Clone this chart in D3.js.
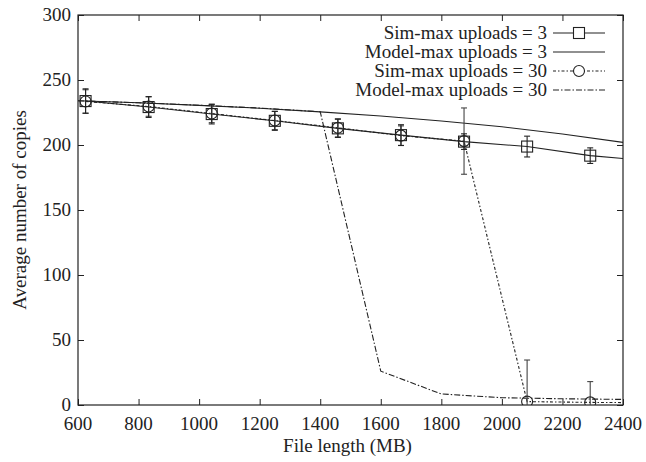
<!DOCTYPE html>
<html>
<head>
<meta charset="utf-8">
<title>Average number of copies</title>
<script src="https://cdn.jsdelivr.net/npm/d3@7"></script>
<style>
    body { margin: 0; background: #fff; }
    text { font-family: "Liberation Serif", serif !important; font-size: 19px; }
</style>
</head>
<body>
<script>
// file sizes (MB)
var simX = [625, 833.3, 1041.7, 1250, 1458.3, 1666.7, 1875, 2083.3, 2291.7, 2500];
var modelX = [600, 800, 1000, 1200, 1400, 1600, 1800, 2000, 2200, 2400];

// Sim-max uploads = 3
var sim3 = [233.8, 229.2, 223.8, 218.6, 212.8, 207.6, 202.6, 198.8, 191.8, 187.7];
var sim3Err = [9.4, 8, 7.6, 7.3, 7, 8, 6, 8, 6, 0];
// Model-max uploads = 3
var model3 = [234, 232.5, 230.5, 228.3, 225.5, 222.3, 218.5, 214, 208.5, 202];
// Sim-max uploads = 30
var sim30 = [233.5, 229.6, 224.2, 218.8, 213.2, 207.2, 203, 2.6, 2, 1.7];
var sim30Err = [9, 7.5, 7, 7, 7, 7.5, 25.5, 32, 16, 0];
// Model-max uploads = 30
var model30 = [234, 232.5, 230.6, 228.4, 225.6, 26, 8.5, 5.6, 4.8, 4.3];

var xTicks = [600, 800, 1000, 1200, 1400, 1600, 1800, 2000, 2200, 2400];
var yTicks = [0, 50, 100, 150, 200, 250, 300];

var W = 646, H = 462;
var margin = { top: 15, right: 23, bottom: 57, left: 78 };
var width = W - margin.left - margin.right,
    height = H - margin.top - margin.bottom;

var x = d3.scaleLinear().domain([600, 2400]).range([0, width]);
var y = d3.scaleLinear().domain([0, 300]).range([height, 0]);

var svg = d3.select("body").append("svg")
    .attr("width", W).attr("height", H)
    .attr("font-family", "Liberation Serif");
var g = svg.append("g")
    .attr("transform", "translate(" + margin.left + "," + margin.top + ")");

g.append("clipPath").attr("id", "clip")
    .append("rect").attr("width", width).attr("height", height);

var ink = "#222";

function label(parent, str) {
    return parent.append("text")
        .attr("font-family", "Liberation Serif").attr("font-size", 19)
        .attr("fill", ink).text(str);
}

// tick marks: inward, on all four sides
var tl = 6;
function ticksOnly(a) {
    a.attr("font-family", null);
    a.select(".domain").remove();
    a.selectAll("text").remove();
    a.selectAll(".tick line").attr("stroke", ink);
}
g.append("g").attr("transform", "translate(0," + height + ")")
    .call(d3.axisBottom(x).tickValues(xTicks).tickSize(-tl)).call(ticksOnly);
g.append("g")
    .call(d3.axisTop(x).tickValues(xTicks).tickSize(-tl)).call(ticksOnly);
g.append("g")
    .call(d3.axisLeft(y).tickValues(yTicks).tickSize(-tl)).call(ticksOnly);
g.append("g").attr("transform", "translate(" + width + ",0)")
    .call(d3.axisRight(y).tickValues(yTicks).tickSize(-tl)).call(ticksOnly);

// tick labels
xTicks.forEach(function (t) {
    label(g, t).attr("x", x(t)).attr("y", height + 25).attr("text-anchor", "middle");
});
yTicks.forEach(function (t) {
    label(g, t).attr("x", -7).attr("y", y(t) + 6).attr("text-anchor", "end");
});

g.append("rect").attr("width", width).attr("height", height)
    .attr("fill", "none").attr("stroke", ink).attr("stroke-width", 1.2);

label(svg, "File length (MB)")
    .attr("x", margin.left + width / 2 - 3).attr("y", H - 10)
    .attr("text-anchor", "middle");
label(svg, "Average number of copies")
    .attr("transform", "translate(26," + (margin.top + height / 2) + ") rotate(-90)")
    .attr("text-anchor", "middle");

var plot = g.append("g").attr("clip-path", "url(#clip)");

function drawLine(xs, ys, dash) {
    var pts = xs.map(function (v, i) { return [v, ys[i]]; });
    plot.append("path").datum(pts)
        .attr("fill", "none").attr("stroke", ink).attr("stroke-width", 1.1)
        .attr("stroke-dasharray", dash)
        .attr("d", d3.line().x(function (d) { return x(d[0]); }).y(function (d) { return y(d[1]); }));
}

function drawErr(xs, ys, es, color) {
    xs.forEach(function (v, i) {
        if (!es[i]) return;
        var cx = x(v), y1 = y(ys[i] + es[i]), y2 = y(ys[i] - es[i]);
        plot.append("line").attr("x1", cx).attr("x2", cx).attr("y1", y1).attr("y2", y2)
            .attr("stroke", color).attr("stroke-width", 1.1);
        [y1, y2].forEach(function (yy) {
            plot.append("line").attr("x1", cx - 3).attr("x2", cx + 3).attr("y1", yy).attr("y2", yy)
                .attr("stroke", color).attr("stroke-width", 1.1);
        });
    });
}

drawLine(modelX, model3, null);
drawLine(simX, sim3, null);
drawLine(modelX, model30, "6,2,1.5,2");
drawLine(simX, sim30, "3,2,1.5,2");

drawErr(simX, sim30, sim30Err, "#444");
drawErr(simX, sim3, sim3Err, ink);

simX.forEach(function (v, i) {
    plot.append("rect").attr("x", x(v) - 5.5).attr("y", y(sim3[i]) - 5.5)
        .attr("width", 11).attr("height", 11)
        .attr("fill", "none").attr("stroke", ink).attr("stroke-width", 1.1);
    plot.append("circle").attr("cx", x(v)).attr("cy", y(sim30[i])).attr("r", 5.5)
        .attr("fill", "none").attr("stroke", ink).attr("stroke-width", 1.1);
});

// legend
var legend = [
    { label: "Sim-max uploads = 3", dash: null, mark: "square" },
    { label: "Model-max uploads = 3", dash: null, mark: null },
    { label: "Sim-max uploads = 30", dash: "3,2,1.5,2", mark: "circle" },
    { label: "Model-max uploads = 30", dash: "6,2,1.5,2", mark: null }
];
var lx0 = 553, lx1 = 605, ly = 33;
legend.forEach(function (d, i) {
    var yy = ly + i * 19;
    label(svg, d.label).attr("x", lx0 - 6).attr("y", yy + 6).attr("text-anchor", "end");
    svg.append("line").attr("x1", lx0).attr("x2", lx1).attr("y1", yy).attr("y2", yy)
        .attr("stroke", ink).attr("stroke-width", 1.1).attr("stroke-dasharray", d.dash);
    var cx = (lx0 + lx1) / 2;
    if (d.mark === "square") {
        svg.append("rect").attr("x", cx - 5.5).attr("y", yy - 5.5).attr("width", 11).attr("height", 11)
            .attr("fill", "#fff").attr("stroke", ink).attr("stroke-width", 1.1);
    } else if (d.mark === "circle") {
        svg.append("circle").attr("cx", cx).attr("cy", yy).attr("r", 5.5)
            .attr("fill", "#fff").attr("stroke", ink).attr("stroke-width", 1.1);
    }
});
</script>
</body>
</html>
